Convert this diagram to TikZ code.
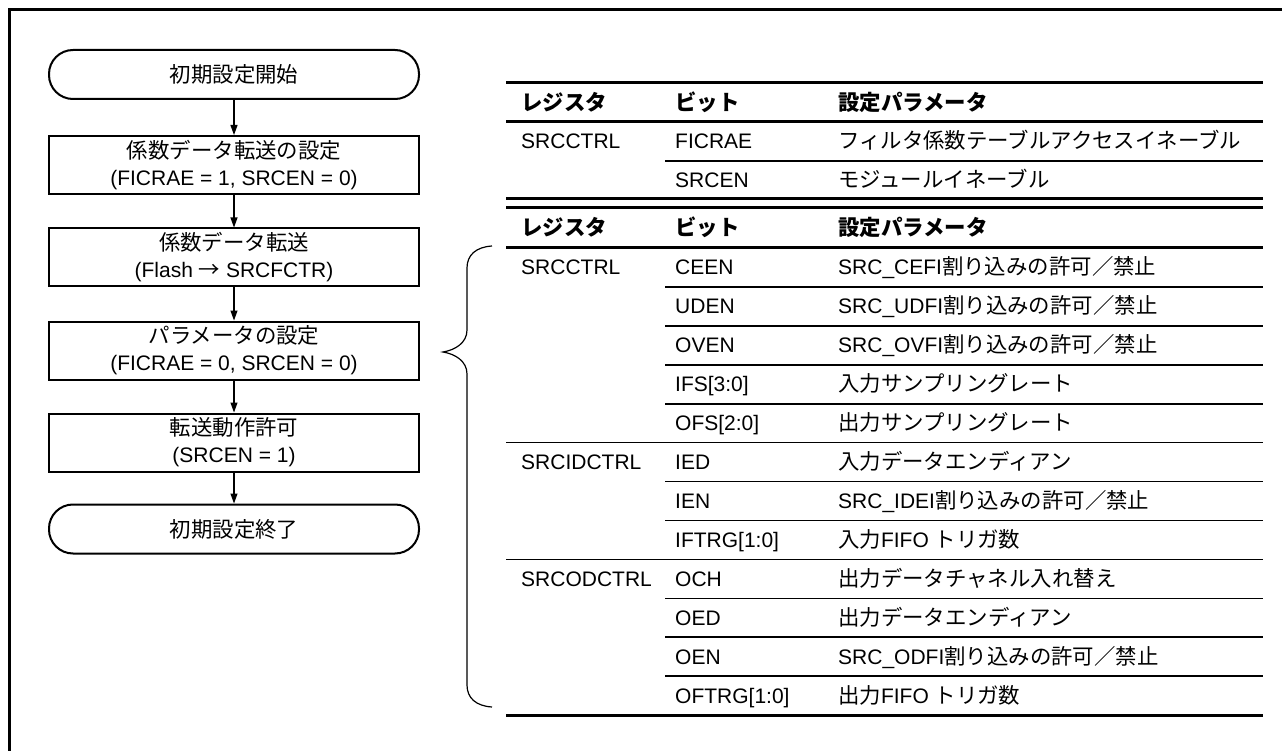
\documentclass[tikz,border=0pt]{standalone}
\usepackage{fontspec}
\setmainfont{Liberation Sans}
\newfontfamily\cjk[Scale=1.02]{Noto Sans CJK JP}
\usetikzlibrary{arrows.meta}
\newcommand\jtxt[1]{{\cjk #1}}
\begin{document}
\begin{tikzpicture}[x=1pt,y=-1pt,
  every node/.style={font=\fontsize{21}{27}\selectfont, inner sep=0pt},
  term/.style={draw, line width=2pt, rounded corners=24pt, minimum width=370pt, minimum height=49pt, align=center},
  proc/.style={draw, line width=2pt, minimum width=370pt, minimum height=58pt, align=center},
  flow/.style={line width=1.1pt, -{Triangle[length=10pt,width=7pt]}},
  cell/.style={anchor=base west},
  hcell/.style={anchor=base west, font=\fontsize{21}{27}\selectfont\cjk\bfseries},
  trule/.style={line width=3pt},
  srule/.style={line width=1.6pt},
  bracestyle/.style={line width=1.2pt},
  frame/.style={line width=3pt, line join=miter},
]
\useasboundingbox (0,0) rectangle (1282,751);

% outer frame
\draw[frame] (9.5,751) -- (9.5,9.5) -- (1282,9.5);

% flowchart
\node[term] (start) at (234,74.5) {\jtxt{初期設定開始}};
\node[proc] (b1) at (234,165) {\jtxt{係数データ転送の設定}\\(FICRAE = 1, SRCEN = 0)};
\node[proc] (b2) at (234,257.5) {\jtxt{係数データ転送}\\(Flash \jtxt{→} SRCFCTR)};
\node[proc] (b3) at (234,350.5) {\jtxt{パラメータの設定}\\(FICRAE = 0, SRCEN = 0)};
\node[proc] (b4) at (234,442.5) {\jtxt{転送動作許可}\\(SRCEN = 1)};
\node[term] (stop) at (234,529) {\jtxt{初期設定終了}};
\draw[flow] (start) -- (b1);
\draw[flow] (b1) -- (b2);
\draw[flow] (b2) -- (b3);
\draw[flow] (b3) -- (b4);
\draw[flow] (b4) -- (stop);

% brace
\draw[bracestyle] (492,246) .. controls (476,247) and (467,255) .. (467,268) -- (467,330)
  .. controls (467,343) and (455,350) .. (443,352)
  .. controls (455,354) and (467,361) .. (467,374) -- (467,685)
  .. controls (467,698) and (476,706) .. (492,707);

% table 1 rules
\draw[trule] (506,83) -- (1263,83);
\draw[trule] (506,122) -- (1263,122);
\draw[srule] (665,161) -- (1263,161);
\draw[trule] (506,199) -- (1263,199);

% table 1 text
\node[hcell] (t1h1) at (521,111) {レジスタ};
\node[hcell] (t1h2) at (675,111) {ビット};
\node[hcell] (t1h3) at (838,111) {設定パラメータ};
\node[cell] (t1r1a) at (521,149) {SRCCTRL};
\node[cell] (t1r1b) at (675,149) {FICRAE};
\node[cell] (t1r1c) at (838,149) {\jtxt{フィルタ係数テーブルアクセスイネーブル}};
\node[cell] (t1r2b) at (675,188) {SRCEN};
\node[cell] (t1r2c) at (838,188) {\jtxt{モジュールイネーブル}};

% table 2 rules
\draw[trule] (506,208) -- (1263,208);
\draw[trule] (506,248) -- (1263,248);
\draw[srule] (665,286.9) -- (1263,286.9);
\draw[srule] (665,325.8) -- (1263,325.8);
\draw[srule] (665,364.8) -- (1263,364.8);
\draw[srule] (665,403.7) -- (1263,403.7);
\draw[srule] (506,442.6) -- (1263,442.6);
\draw[srule] (665,481.5) -- (1263,481.5);
\draw[srule] (665,520.4) -- (1263,520.4);
\draw[srule] (506,559.4) -- (1263,559.4);
\draw[srule] (665,598.3) -- (1263,598.3);
\draw[srule] (665,637.2) -- (1263,637.2);
\draw[srule] (665,676.1) -- (1263,676.1);
\draw[trule] (506,715) -- (1263,715);

% table 2 text
\node[hcell] (t2h1) at (521,236) {レジスタ};
\node[hcell] (t2h2) at (675,236) {ビット};
\node[hcell] (t2h3) at (838,236) {設定パラメータ};

\node[cell] (r1a) at (521,275) {SRCCTRL};
\node[cell] (r1b) at (675,275) {CEEN};
\node[cell] (r1c) at (838,275) {SRC\_CEFI\jtxt{割り込みの許可／禁止}};
\node[cell] (r2b) at (675,313.9) {UDEN};
\node[cell] (r2c) at (838,313.9) {SRC\_UDFI\jtxt{割り込みの許可／禁止}};
\node[cell] (r3b) at (675,352.8) {OVEN};
\node[cell] (r3c) at (838,352.8) {SRC\_OVFI\jtxt{割り込みの許可／禁止}};
\node[cell] (r4b) at (675,391.8) {IFS[3:0]};
\node[cell] (r4c) at (838,391.8) {\jtxt{入力サンプリングレート}};
\node[cell] (r5b) at (675,430.7) {OFS[2:0]};
\node[cell] (r5c) at (838,430.7) {\jtxt{出力サンプリングレート}};

\node[cell] (r6a) at (521,469.6) {SRCIDCTRL};
\node[cell] (r6b) at (675,469.6) {IED};
\node[cell] (r6c) at (838,469.6) {\jtxt{入力データエンディアン}};
\node[cell] (r7b) at (675,508.5) {IEN};
\node[cell] (r7c) at (838,508.5) {SRC\_IDEI\jtxt{割り込みの許可／禁止}};
\node[cell] (r8b) at (675,547.4) {IFTRG[1:0]};
\node[cell] (r8c) at (838,547.4) {\jtxt{入力}FIFO \jtxt{トリガ数}};

\node[cell] (r9a) at (521,586.4) {SRCODCTRL};
\node[cell] (r9b) at (675,586.4) {OCH};
\node[cell] (r9c) at (838,586.4) {\jtxt{出力データチャネル入れ替え}};
\node[cell] (r10b) at (675,625.3) {OED};
\node[cell] (r10c) at (838,625.3) {\jtxt{出力データエンディアン}};
\node[cell] (r11b) at (675,664.2) {OEN};
\node[cell] (r11c) at (838,664.2) {SRC\_ODFI\jtxt{割り込みの許可／禁止}};
\node[cell] (r12b) at (675,703.1) {OFTRG[1:0]};
\node[cell] (r12c) at (838,703.1) {\jtxt{出力}FIFO \jtxt{トリガ数}};
\end{tikzpicture}
\end{document}
